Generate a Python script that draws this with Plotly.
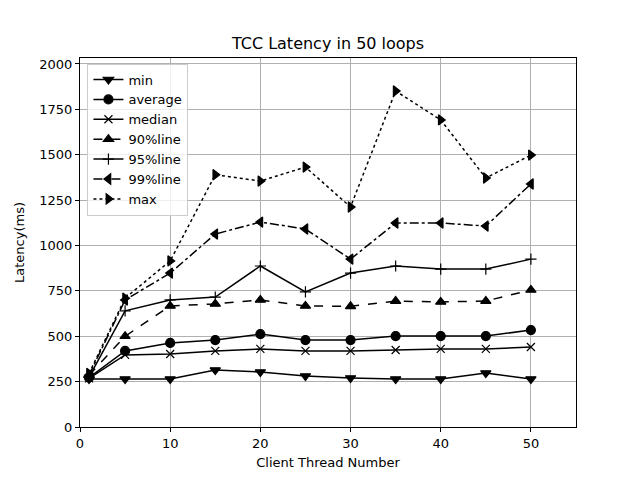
import plotly.graph_objects as go

threads = [1, 5, 10, 15, 20, 25, 30, 35, 40, 45, 50]
lat_min = [265, 264, 264, 314, 303, 281, 270, 264, 264, 297, 264]
lat_avg = [272, 419, 463, 479, 512, 479, 479, 501, 501, 501, 534]
lat_median = [268, 397, 402, 419, 430, 419, 419, 424, 430, 430, 441]
lat_90 = [285, 500, 667, 678, 700, 667, 665, 694, 689, 694, 755]
lat_95 = [275, 640, 700, 716, 887, 744, 848, 887, 870, 870, 925]
lat_99 = [285, 700, 848, 1063, 1129, 1091, 925, 1124, 1124, 1107, 1339]
lat_max = [295, 710, 915, 1390, 1355, 1432, 1212, 1851, 1692, 1372, 1498]

series = [
    ("min", lat_min, "triangle-down", "solid"),
    ("average", lat_avg, "circle", "solid"),
    ("median", lat_median, "x-thin", "solid"),
    ("90%line", lat_90, "triangle-up", "dash"),
    ("95%line", lat_95, "cross-thin", "solid"),
    ("99%line", lat_99, "triangle-left", "dashdot"),
    ("max", lat_max, "triangle-right", "dot"),
]

fig = go.Figure()
for name, vals, sym, dash in series:
    thin = sym.endswith("thin")
    fig.add_trace(go.Scatter(
        x=threads, y=vals, name=name, mode="lines+markers",
        line=dict(color="black", width=1.5, dash=dash),
        marker=dict(symbol=sym, size=9 if not thin else 8, color="black",
                    line=dict(color="black", width=1.2)),
    ))

axis_common = dict(
    showgrid=True, gridcolor="#b0b0b0", gridwidth=0.8,
    showline=True, linecolor="black", linewidth=1, mirror=True,
    ticks="outside", ticklen=4, tickcolor="black",
    zeroline=False, tickfont=dict(size=13, color="black"),
)

fig.update_layout(
    width=640, height=480,
    paper_bgcolor="white", plot_bgcolor="white",
    font=dict(family="DejaVu Sans", color="black"),
    margin=dict(l=72, r=72, t=50, b=61),
    title=dict(text="TCC Latency in 50 loops", x=(72 + 248) / 640, xanchor="center",
               y=1 - 35 / 480, yanchor="middle", font=dict(size=16)),
    xaxis=dict(range=[0, 55], tickvals=[0, 10, 20, 30, 40, 50],
               title=dict(text="Client Thread Number", font=dict(size=13), standoff=8),
               **axis_common),
    yaxis=dict(range=[0, 2033], tickvals=[0, 250, 500, 750, 1000, 1250, 1500, 1750, 2000],
               title=dict(text="Latency(ms)", font=dict(size=13), standoff=11),
               **axis_common),
    legend=dict(x=0.015, y=0.985, xanchor="left", yanchor="top",
                bgcolor="rgba(255,255,255,0.8)", bordercolor="#cccccc", borderwidth=1,
                font=dict(size=13), tracegroupgap=0, itemwidth=30),
    showlegend=True,
)

fig.write_html("out.html")
